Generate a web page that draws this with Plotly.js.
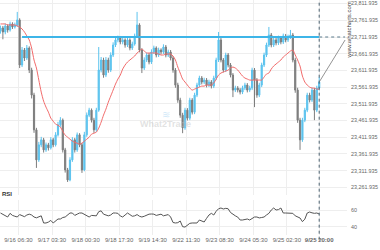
<!DOCTYPE html>
<html>
<head>
<meta charset="utf-8">
<script src="https://cdn.plot.ly/plotly-3.0.1.min.js"></script>
<style>html,body{margin:0;padding:0;background:#fff;}#chart{width:380px;height:250px;}</style>
</head>
<body>
<div id="chart"></div>
<script>
// ---- data ----
const tickPositions = [7.5, 21.5, 35.5, 49.5, 63.5, 77.5, 91.5, 105.5, 119.5, 133];
const tickLabels = ["9/16 06:30","9/17 03:30","9/18 00:30","9/18 17:30","9/19 14:30","9/22 11:30","9/23 08:30","9/24 05:30","9/25 02:30","<b>9/25 20:00</b>"];
const priceTicks = [23261.935,23311.935,23361.935,23411.935,23461.935,23511.935,23561.935,23611.935,23661.935,23711.935,23761.935,23811.935];
const rsiTicks = [40, 60];
const levelPrice = 23711.935;

const openP = [23730,23739,23727,23745,23733,23751,23742,23748,23763,23628,23673,23649,23679,23613,23538,23434,23344,23389,23404,23374,
23389,23380,23404,23389,23419,23449,23463,23374,23314,23284,23344,23404,23374,23419,23389,23314,23419,23478,23493,23463,
23434,23493,23613,23643,23598,23643,23613,23658,23688,23703,23709,23697,23703,23688,23703,23679,23691,23715,23748,23673,
23619,23643,23658,23637,23667,23679,23658,23673,23667,23682,23658,23667,23649,23613,23568,23523,23478,23440,23493,23469,
23523,23487,23538,23568,23589,23577,23583,23568,23577,23565,23589,23643,23703,23643,23613,23658,23628,23598,23553,23559,
23553,23547,23559,23568,23553,23559,23613,23583,23538,23568,23628,23658,23688,23718,23688,23703,23694,23709,23697,23715,
23703,23712,23718,23643,23553,23463,23404,23463,23493,23538,23523,23553,23493,23559];
const highP = [23746,23745,23752,23750,23758,23756,23755,23787,23768,23682,23679,23688,23684,23620,23545,23440,23398,23413,23410,23396,
23395,23412,23410,23427,23458,23472,23468,23380,23320,23352,23412,23410,23426,23424,23395,23428,23486,23500,23498,23470,
23500,23682,23652,23650,23652,23650,23666,23696,23710,23716,23715,23712,23708,23710,23708,23698,23722,23787,23753,23678,
23651,23665,23664,23675,23686,23684,23680,23678,23690,23688,23674,23673,23655,23619,23575,23530,23485,23500,23499,23530,
23529,23545,23575,23596,23595,23590,23589,23584,23583,23596,23650,23727,23709,23649,23665,23664,23634,23604,23566,23565,
23559,23566,23575,23574,23566,23620,23619,23589,23575,23635,23665,23695,23742,23724,23710,23709,23716,23715,23722,23721,
23719,23733,23724,23650,23560,23470,23470,23500,23545,23545,23560,23559,23566,23592];
const lowP = [23722,23705,23720,23725,23728,23736,23737,23742,23619,23622,23640,23643,23604,23528,23425,23320,23338,23382,23366,23368,
23372,23375,23382,23384,23414,23443,23366,23306,23278,23280,23338,23366,23368,23382,23305,23310,23413,23472,23456,23425,
23428,23488,23606,23590,23592,23605,23607,23652,23682,23696,23690,23690,23680,23682,23672,23673,23686,23710,23666,23604,
23613,23637,23630,23631,23661,23651,23652,23660,23661,23651,23652,23642,23605,23560,23515,23470,23424,23434,23462,23463,
23480,23481,23532,23562,23570,23571,23561,23562,23558,23559,23583,23637,23636,23606,23607,23621,23591,23532,23547,23546,
23540,23541,23553,23546,23547,23553,23502,23530,23532,23562,23622,23652,23682,23681,23682,23687,23688,23690,23691,23696,
23697,23706,23636,23545,23455,23374,23398,23457,23487,23516,23517,23463,23487,23552];
const closeP = [23739,23727,23745,23733,23751,23742,23748,23763,23628,23673,23649,23679,23613,23538,23434,23344,23389,23404,23374,23389,
23380,23404,23389,23419,23449,23463,23374,23314,23284,23344,23404,23374,23419,23389,23314,23419,23478,23493,23463,23434,
23493,23613,23643,23598,23643,23613,23658,23688,23703,23709,23697,23703,23688,23703,23679,23691,23715,23748,23673,23619,
23643,23658,23637,23667,23679,23658,23673,23667,23682,23658,23667,23649,23613,23568,23523,23478,23440,23493,23469,23523,
23487,23538,23568,23589,23577,23583,23568,23577,23565,23589,23643,23703,23643,23613,23658,23628,23598,23553,23559,23553,
23547,23559,23568,23553,23559,23613,23583,23538,23568,23628,23658,23688,23718,23688,23703,23694,23709,23697,23715,23703,
23712,23718,23643,23553,23463,23404,23463,23493,23538,23523,23553,23493,23559,23577];
const maLine = [23751,23751,23751,23748,23748,23748,23748,23745,23742,23736,23727,23715,23703,23679,23643,23619,23583,23547,23520,23502,
23487,23469,23460,23451,23448,23442,23430,23418,23412,23406,23400,23397,23394,23391,23394,23400,23406,23412,23421,23424,
23427,23439,23457,23478,23496,23517,23535,23553,23571,23586,23598,23616,23628,23637,23643,23649,23655,23664,23670,23676,
23670,23664,23664,23664,23664,23664,23661,23658,23658,23661,23661,23661,23655,23643,23622,23604,23586,23577,23568,23559,
23553,23556,23559,23562,23565,23565,23568,23568,23568,23574,23586,23598,23604,23607,23610,23613,23619,23622,23619,23613,
23604,23595,23589,23586,23583,23583,23583,23583,23583,23583,23592,23601,23604,23616,23625,23631,23637,23643,23652,23658,
23664,23670,23673,23658,23643,23625,23595,23577,23568,23562,23559,23559,23556,23556];
const rsi = [56.4,55,53,51.6,56,53.5,52.5,51.6,54.5,53,52,54,55,54,51.6,50.6,52,53,44.4,44.4,
45.5,47.5,44.4,47,49.2,49.2,51,51.6,54,56.4,56.4,53.5,55,56.4,56.4,54.5,53,51.6,53.5,53.5,
53,58,59,55,53.5,53,54,56.4,56.4,56,52.8,51.6,54,56.4,54.5,52.5,53,54.5,52.5,51.6,
52.5,54,55,55.2,55,53.5,54,55,53,54,54.5,51.6,45,44.4,44.8,46.8,40,39.5,42,44,
44.4,44.4,44.4,48,47,45.6,50,54,56,54,58.5,61.5,62.4,61.2,62,61.5,57,54.5,53,51.5,
48,48,48.5,49.2,48,50,51.6,51.6,50.5,51,51.6,54,56,60,62.4,60,60.5,62.4,56.4,56.4,
56.4,56.4,56,53,51.6,50.4,46,49,56.4,57.6,56.6,56,56.4,55.2];

const idx = closeP.map((_, i) => i);
const lastI = idx[idx.length - 1];
const lastClose = closeP[closeP.length - 1];

const font = "Liberation Sans, Arial, sans-serif";

const traces = [
  {
    type: 'candlestick', x: idx, open: openP, high: highP, low: lowP, close: closeP,
    xaxis: 'x', yaxis: 'y',
    increasing: {line: {color: '#5cc3ee', width: 1}, fillcolor: '#5cc3ee'},
    decreasing: {line: {color: '#7d7d7d', width: 1}, fillcolor: '#7d7d7d'},
    whiskerwidth: 0, hoverinfo: 'skip', showlegend: false
  },
  {
    type: 'scatter', mode: 'lines', x: idx, y: maLine, xaxis: 'x', yaxis: 'y',
    line: {color: '#f26a6a', width: 1, shape: 'spline', smoothing: 0.6}, hoverinfo: 'skip', showlegend: false
  },
  {
    type: 'scatter', mode: 'lines', x: idx, y: rsi, xaxis: 'x', yaxis: 'y2',
    line: {color: '#555555', width: 1}, hoverinfo: 'skip', showlegend: false
  }
];

const xEnd = 144.6;

const layout = {
  width: 380, height: 250,
  margin: {l: 0, r: 33, t: 0, b: 15, pad: 0},
  paper_bgcolor: '#ffffff', plot_bgcolor: '#ffffff',
  showlegend: false,
  font: {family: font, size: 6, color: '#666'},
  xaxis: {
    type: 'linear', range: [-0.2, xEnd], anchor: 'y2',
    tickmode: 'array', tickvals: tickPositions, ticktext: tickLabels,
    showgrid: true, gridcolor: '#eeeeee', gridwidth: 1,
    zeroline: false, showline: false, ticks: '',
    tickfont: {family: font, size: 6, color: '#666'},
    rangeslider: {visible: false}, fixedrange: true
  },
  yaxis: {
    domain: [0.1702, 1], range: [23238.9, 23822.7], side: 'right',
    tickmode: 'array', tickvals: priceTicks, tickformat: ',.3f',
    showgrid: true, gridcolor: '#eeeeee', zeroline: false, showline: false, ticks: '',
    ticklabelstandoff: 3,
    tickfont: {family: font, size: 5.4, color: '#666'}
  },
  yaxis2: {
    domain: [0, 0.1489], range: [30, 72], side: 'right',
    tickmode: 'array', tickvals: rsiTicks,
    showgrid: true, gridcolor: '#eeeeee', zeroline: false, showline: false, ticks: '',
    ticklabelstandoff: 3,
    tickfont: {family: font, size: 5.4, color: '#666'}
  },
  shapes: [
    {type: 'line', xref: 'x', yref: 'y', x0: 9, x1: lastI, y0: levelPrice, y1: levelPrice,
     line: {color: '#3db5e8', width: 2}},
    {type: 'line', xref: 'x', yref: 'y', x0: lastI, x1: xEnd - 0.8, y0: levelPrice, y1: levelPrice,
     line: {color: '#5b7b8c', width: 1, dash: 'dot'}},
    {type: 'line', xref: 'x', yref: 'paper', x0: lastI, x1: lastI, y0: -0.02, y1: 1,
     line: {color: '#4c6270', width: 1, dash: 'dot'}},
    {type: 'line', xref: 'x', yref: 'y', x0: lastI, x1: xEnd - 0.8, y0: lastClose, y1: levelPrice - 9,
     line: {color: '#777777', width: 0.8}}
  ],
  annotations: [
    {xref: 'paper', yref: 'paper', x: 1.003, y: 1, xanchor: 'center', yanchor: 'top',
     text: 'www.whatcharts.com', textangle: -90, showarrow: false,
     font: {family: font, size: 6, color: '#444'}},
    {xref: 'paper', yref: 'y2 domain', x: 0, y: 1.02, xanchor: 'left', yanchor: 'bottom',
     text: '<b>RSI</b>', showarrow: false, font: {family: font, size: 6, color: '#333'}},
    {xref: 'x', yref: 'y', x: 69, y: 23480, xanchor: 'center', yanchor: 'middle',
     text: '≋', showarrow: false, font: {family: font, size: 10, color: 'rgba(120,190,235,0.35)'}},
    {xref: 'x', yref: 'y', x: 69, y: 23450, xanchor: 'center', yanchor: 'middle',
     text: '<b>What2Trade</b>', showarrow: false, font: {family: font, size: 9, color: 'rgba(190,190,190,0.45)'}}
  ]
};

Plotly.newPlot('chart', traces, layout, {staticPlot: true, displayModeBar: false});
</script>
</body>
</html>
